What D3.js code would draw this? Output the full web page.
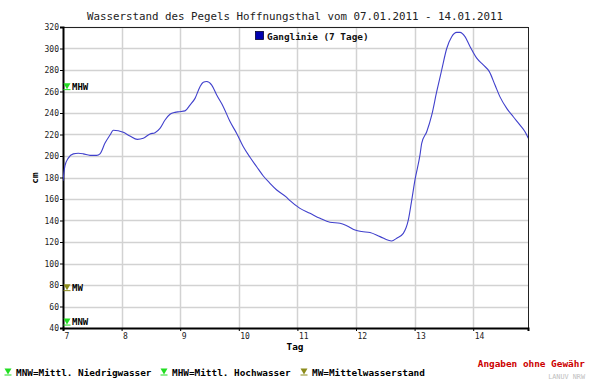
<!DOCTYPE html>
<html><head><meta charset="utf-8">
<script src="https://cdn.jsdelivr.net/npm/d3@7"></script>
<style>
html,body{margin:0;padding:0;background:#fff;}
svg{display:block;}
</style></head>
<body>
<script>
const title = "Wasserstand des Pegels Hoffnungsthal vom 07.01.2011 - 14.01.2011";
const seriesName = "Ganglinie (7 Tage)";
const xTicks = [7, 8, 9, 10, 11, 12, 13, 14];
const yTicks = [40, 60, 80, 100, 120, 140, 160, 180, 200, 220, 240, 260, 280, 300, 320];
const days = [7.000,7.034,7.090,7.176,7.261,7.346,7.461,7.575,7.631,7.717,7.802,7.858,7.944,8.029,8.143,8.268,8.370,8.485,8.570,8.655,8.741,8.826,8.911,8.985,9.082,9.167,9.253,9.338,9.394,9.452,9.538,9.623,9.735,9.850,9.964,10.077,10.191,10.305,10.418,10.532,10.647,10.817,10.874,11.044,11.215,11.386,11.556,11.727,11.841,11.983,12.097,12.239,12.410,12.609,12.695,12.807,12.893,12.951,13.007,13.092,13.121,13.207,13.292,13.377,13.462,13.548,13.633,13.718,13.775,13.860,13.945,14.060,14.172,14.275,14.372,14.457,14.572,14.684,14.799,14.884,14.940];
const levels = [177,191,198,202,202.5,202,200.6,200.6,202,212,219.5,224,223.5,222,218.6,215.5,216.5,220.5,221.7,225.7,233.5,238.8,240.6,241.2,242,247.4,253.6,264.5,268.6,269.3,266,256.7,245.9,232,221,208.6,198.8,190,181.4,174.6,168.4,161.5,158.4,151.3,146.7,142,138.3,137.4,135.2,131.2,129.7,128.8,125,121,123.5,128,140.5,159,178,201,211.8,222.6,238,259.8,280,300,311,315,315,311,301.9,291,284.7,278.5,266,255,244.3,236.5,228.8,222.6,216.5];
const markerNames = ["MHW", "MW", "MNW"];
const markerValues = [265, 78, 46];
const markerColors = ["#22dd22", "#8c8c1c", "#22dd22"];
const legendItems = ["MNW=Mittl. Niedrigwasser", "MHW=Mittl. Hochwasser", "MW=Mittelwasserstand"];
const legendColors = ["#22dd22", "#22dd22", "#8c8c1c"];

const W = 590, H = 381;
const m = {left: 63, right: 528, top: 27, bottom: 328};
const mono = "'DejaVu Sans Mono', monospace";

const svg = d3.select("body").append("svg").attr("width", W).attr("height", H);

const x = d3.scaleLinear().domain([7, 14.935]).range([m.left, m.right]);
const y = d3.scaleLinear().domain([40, 320]).range([m.bottom, m.top]);

// grid
const g = svg.append("g");
g.selectAll("line.gx").data(xTicks.filter(d => d > 7)).enter().append("line")
  .attr("x1", d => Math.round(x(d)) + 0.5).attr("x2", d => Math.round(x(d)) + 0.5)
  .attr("y1", m.top).attr("y2", m.bottom)
  .attr("stroke", "#d2d2d2").attr("stroke-width", 1.5);
g.selectAll("line.gy").data(yTicks.filter(d => d > 40)).enter().append("line")
  .attr("x1", m.left).attr("x2", m.right)
  .attr("y1", d => Math.round(y(d)) + 0.5).attr("y2", d => Math.round(y(d)) + 0.5)
  .attr("stroke", "#d2d2d2").attr("stroke-width", 1.5);

// frame
svg.append("rect").attr("x", m.left + 0.5).attr("y", m.top + 0.5)
  .attr("width", m.right - m.left).attr("height", m.bottom - m.top)
  .attr("fill", "none").attr("stroke", "#222").attr("stroke-width", 1);

// axes
const yAxis = d3.axisLeft(y).tickValues(yTicks).tickSize(3).tickFormat(d3.format("d"));
const ya = svg.append("g").attr("transform", `translate(${m.left},0)`).call(yAxis);
ya.select(".domain").attr("stroke", "#000").attr("stroke-width", 2);
ya.selectAll(".tick line").attr("stroke", "#000");
ya.selectAll(".tick text").attr("font-family", mono).attr("font-size", "8px").attr("fill", "#222").attr("x", -4);

const xAxis = d3.axisBottom(x).tickValues(xTicks).tickSize(3).tickFormat(d3.format("d"));
const xa = svg.append("g").attr("transform", `translate(0,${m.bottom})`).call(xAxis);
xa.select(".domain").attr("stroke", "#000").attr("stroke-width", 2);
xa.selectAll(".tick line").attr("stroke", "#000");
xa.selectAll(".tick text").attr("font-family", mono).attr("font-size", "8px").attr("fill", "#222")
  .attr("text-anchor", "start").attr("x", 1).attr("y", 5);

// clip
svg.append("clipPath").attr("id", "clip").append("rect")
  .attr("x", m.left).attr("y", m.top).attr("width", m.right - m.left).attr("height", m.bottom - m.top);

const data = days.map((d, i) => [d, levels[i]]);
svg.append("path").datum(data).attr("clip-path", "url(#clip)")
  .attr("d", d3.line().x(d => x(d[0])).y(d => y(d[1])).curve(d3.curveMonotoneX))
  .attr("fill", "none").attr("stroke", "#4040cc").attr("stroke-width", 1.1);

// markers
function tri(sel, cx, cy, color) {
  sel.append("path").attr("d", `M${cx-3.5},${cy-3} L${cx+3.5},${cy-3} L${cx},${cy+3} Z`).attr("fill", color);
  sel.append("line").attr("x1", cx - 3.5).attr("x2", cx + 3.5).attr("y1", cy + 3.5).attr("y2", cy + 3.5)
    .attr("stroke", color).attr("stroke-width", 1);
}
markerNames.forEach((n, i) => {
  const cy = y(markerValues[i]);
  tri(svg, 67, cy, markerColors[i]);
  svg.append("text").attr("x", 72).attr("y", cy + 3.5).text(n)
    .attr("font-family", mono).attr("font-weight", "bold").attr("font-size", "9px").attr("fill", "#000");
});

// title
svg.append("text").attr("x", 295).attr("y", 20).attr("text-anchor", "middle").text(title)
  .attr("font-family", mono).attr("font-size", "10.8px").attr("fill", "#222");

// series legend
svg.append("rect").attr("x", 255.5).attr("y", 31.5).attr("width", 8).attr("height", 8)
  .attr("fill", "#0000b0").attr("stroke", "#000033").attr("stroke-width", 0.8);
svg.append("text").attr("x", 267).attr("y", 39.5).text(seriesName)
  .attr("font-family", mono).attr("font-weight", "bold").attr("font-size", "9.4px").attr("fill", "#111");

// axis titles
svg.append("text").attr("x", 295).attr("y", 350).attr("text-anchor", "middle").text("Tag")
  .attr("font-family", mono).attr("font-weight", "bold").attr("font-size", "9.4px").attr("fill", "#000");
svg.append("text").attr("transform", "translate(38,178) rotate(-90)").attr("text-anchor", "middle").text("cm")
  .attr("font-family", mono).attr("font-weight", "bold").attr("font-size", "9.4px").attr("fill", "#000");

// bottom legend
const legX = [8, 164, 304];
legendItems.forEach((t, i) => {
  tri(svg, legX[i], 371.5, legendColors[i]);
  svg.append("text").attr("x", legX[i] + 8).attr("y", 375.5).text(t)
    .attr("font-family", mono).attr("font-weight", "bold").attr("font-size", "9.4px").attr("fill", "#000");
});

svg.append("text").attr("x", 585).attr("y", 366.5).attr("text-anchor", "end").text("Angaben ohne Gewähr")
  .attr("font-family", mono).attr("font-weight", "bold").attr("font-size", "9.4px").attr("fill", "#cc0000");
svg.append("text").attr("x", 585).attr("y", 378.5).attr("text-anchor", "end").text("LANUV NRW")
  .attr("font-family", mono).attr("font-size", "6.8px").attr("fill", "#c0c0c0");
</script>
</body></html>
